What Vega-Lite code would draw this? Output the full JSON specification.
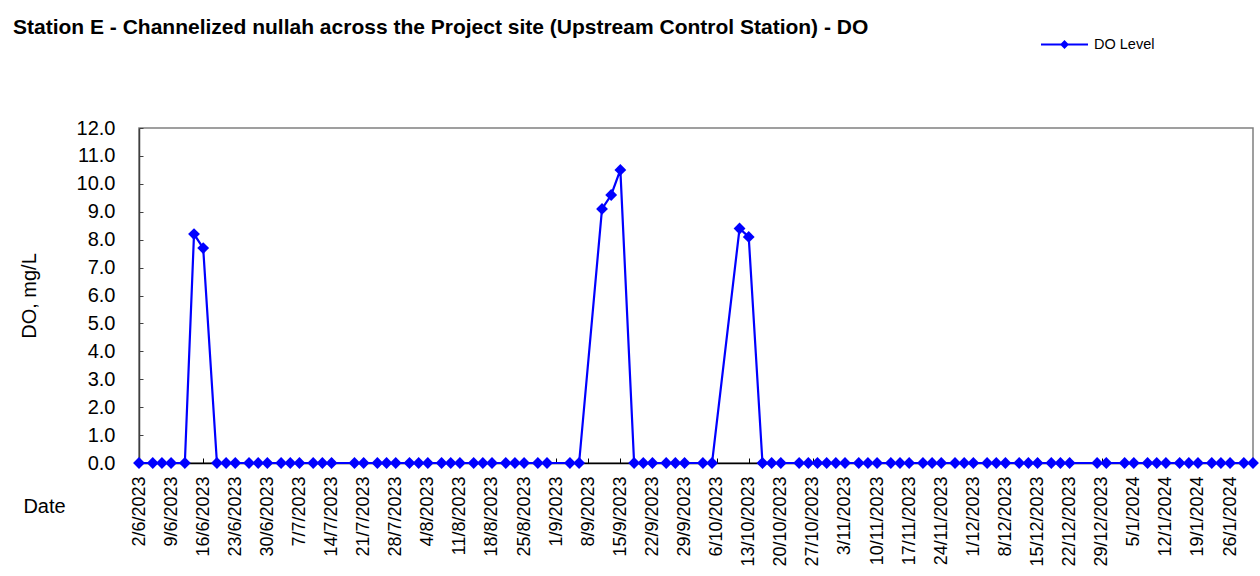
{
  "$schema": "https://vega.github.io/schema/vega-lite/v6.json",
  "width": 1114,
  "height": 335,
  "autosize": {"type": "none"},
  "padding": {"left": 139, "top": 128, "right": 7, "bottom": 113},
  "background": "white",
  "title": {
    "text": "Station E - Channelized nullah across the Project site (Upstream Control Station) - DO",
    "anchor": "start",
    "frame": "group",
    "dx": -126,
    "dy": 18,
    "offset": 0,
    "font": "Liberation Sans",
    "fontSize": 21,
    "fontWeight": "bold",
    "color": "#000000"
  },
  "config": {
    "font": "Liberation Sans",
    "view": {"stroke": "#808080", "strokeWidth": 1.5}
  },
  "data": {
    "values": [
      {"date": "2023-06-02T00:00", "value": 0, "series": "DO Level"},
      {"date": "2023-06-05T00:00", "value": 0, "series": "DO Level"},
      {"date": "2023-06-07T00:00", "value": 0, "series": "DO Level"},
      {"date": "2023-06-09T00:00", "value": 0, "series": "DO Level"},
      {"date": "2023-06-12T00:00", "value": 0, "series": "DO Level"},
      {"date": "2023-06-14T00:00", "value": 8.2, "series": "DO Level"},
      {"date": "2023-06-16T00:00", "value": 7.7, "series": "DO Level"},
      {"date": "2023-06-19T00:00", "value": 0, "series": "DO Level"},
      {"date": "2023-06-21T00:00", "value": 0, "series": "DO Level"},
      {"date": "2023-06-23T00:00", "value": 0, "series": "DO Level"},
      {"date": "2023-06-26T00:00", "value": 0, "series": "DO Level"},
      {"date": "2023-06-28T00:00", "value": 0, "series": "DO Level"},
      {"date": "2023-06-30T00:00", "value": 0, "series": "DO Level"},
      {"date": "2023-07-03T00:00", "value": 0, "series": "DO Level"},
      {"date": "2023-07-05T00:00", "value": 0, "series": "DO Level"},
      {"date": "2023-07-07T00:00", "value": 0, "series": "DO Level"},
      {"date": "2023-07-10T00:00", "value": 0, "series": "DO Level"},
      {"date": "2023-07-12T00:00", "value": 0, "series": "DO Level"},
      {"date": "2023-07-14T00:00", "value": 0, "series": "DO Level"},
      {"date": "2023-07-19T00:00", "value": 0, "series": "DO Level"},
      {"date": "2023-07-21T00:00", "value": 0, "series": "DO Level"},
      {"date": "2023-07-24T00:00", "value": 0, "series": "DO Level"},
      {"date": "2023-07-26T00:00", "value": 0, "series": "DO Level"},
      {"date": "2023-07-28T00:00", "value": 0, "series": "DO Level"},
      {"date": "2023-07-31T00:00", "value": 0, "series": "DO Level"},
      {"date": "2023-08-02T00:00", "value": 0, "series": "DO Level"},
      {"date": "2023-08-04T00:00", "value": 0, "series": "DO Level"},
      {"date": "2023-08-07T00:00", "value": 0, "series": "DO Level"},
      {"date": "2023-08-09T00:00", "value": 0, "series": "DO Level"},
      {"date": "2023-08-11T00:00", "value": 0, "series": "DO Level"},
      {"date": "2023-08-14T00:00", "value": 0, "series": "DO Level"},
      {"date": "2023-08-16T00:00", "value": 0, "series": "DO Level"},
      {"date": "2023-08-18T00:00", "value": 0, "series": "DO Level"},
      {"date": "2023-08-21T00:00", "value": 0, "series": "DO Level"},
      {"date": "2023-08-23T00:00", "value": 0, "series": "DO Level"},
      {"date": "2023-08-25T00:00", "value": 0, "series": "DO Level"},
      {"date": "2023-08-28T00:00", "value": 0, "series": "DO Level"},
      {"date": "2023-08-30T00:00", "value": 0, "series": "DO Level"},
      {"date": "2023-09-04T00:00", "value": 0, "series": "DO Level"},
      {"date": "2023-09-06T00:00", "value": 0, "series": "DO Level"},
      {"date": "2023-09-11T00:00", "value": 9.1, "series": "DO Level"},
      {"date": "2023-09-13T00:00", "value": 9.6, "series": "DO Level"},
      {"date": "2023-09-15T00:00", "value": 10.5, "series": "DO Level"},
      {"date": "2023-09-18T00:00", "value": 0, "series": "DO Level"},
      {"date": "2023-09-20T00:00", "value": 0, "series": "DO Level"},
      {"date": "2023-09-22T00:00", "value": 0, "series": "DO Level"},
      {"date": "2023-09-25T00:00", "value": 0, "series": "DO Level"},
      {"date": "2023-09-27T00:00", "value": 0, "series": "DO Level"},
      {"date": "2023-09-29T00:00", "value": 0, "series": "DO Level"},
      {"date": "2023-10-03T00:00", "value": 0, "series": "DO Level"},
      {"date": "2023-10-05T00:00", "value": 0, "series": "DO Level"},
      {"date": "2023-10-11T00:00", "value": 8.4, "series": "DO Level"},
      {"date": "2023-10-13T00:00", "value": 8.1, "series": "DO Level"},
      {"date": "2023-10-16T00:00", "value": 0, "series": "DO Level"},
      {"date": "2023-10-18T00:00", "value": 0, "series": "DO Level"},
      {"date": "2023-10-20T00:00", "value": 0, "series": "DO Level"},
      {"date": "2023-10-24T00:00", "value": 0, "series": "DO Level"},
      {"date": "2023-10-26T00:00", "value": 0, "series": "DO Level"},
      {"date": "2023-10-28T00:00", "value": 0, "series": "DO Level"},
      {"date": "2023-10-30T00:00", "value": 0, "series": "DO Level"},
      {"date": "2023-11-01T00:00", "value": 0, "series": "DO Level"},
      {"date": "2023-11-03T00:00", "value": 0, "series": "DO Level"},
      {"date": "2023-11-06T00:00", "value": 0, "series": "DO Level"},
      {"date": "2023-11-08T00:00", "value": 0, "series": "DO Level"},
      {"date": "2023-11-10T00:00", "value": 0, "series": "DO Level"},
      {"date": "2023-11-13T00:00", "value": 0, "series": "DO Level"},
      {"date": "2023-11-15T00:00", "value": 0, "series": "DO Level"},
      {"date": "2023-11-17T00:00", "value": 0, "series": "DO Level"},
      {"date": "2023-11-20T00:00", "value": 0, "series": "DO Level"},
      {"date": "2023-11-22T00:00", "value": 0, "series": "DO Level"},
      {"date": "2023-11-24T00:00", "value": 0, "series": "DO Level"},
      {"date": "2023-11-27T00:00", "value": 0, "series": "DO Level"},
      {"date": "2023-11-29T00:00", "value": 0, "series": "DO Level"},
      {"date": "2023-12-01T00:00", "value": 0, "series": "DO Level"},
      {"date": "2023-12-04T00:00", "value": 0, "series": "DO Level"},
      {"date": "2023-12-06T00:00", "value": 0, "series": "DO Level"},
      {"date": "2023-12-08T00:00", "value": 0, "series": "DO Level"},
      {"date": "2023-12-11T00:00", "value": 0, "series": "DO Level"},
      {"date": "2023-12-13T00:00", "value": 0, "series": "DO Level"},
      {"date": "2023-12-15T00:00", "value": 0, "series": "DO Level"},
      {"date": "2023-12-18T00:00", "value": 0, "series": "DO Level"},
      {"date": "2023-12-20T00:00", "value": 0, "series": "DO Level"},
      {"date": "2023-12-22T00:00", "value": 0, "series": "DO Level"},
      {"date": "2023-12-28T00:00", "value": 0, "series": "DO Level"},
      {"date": "2023-12-30T00:00", "value": 0, "series": "DO Level"},
      {"date": "2024-01-03T00:00", "value": 0, "series": "DO Level"},
      {"date": "2024-01-05T00:00", "value": 0, "series": "DO Level"},
      {"date": "2024-01-08T00:00", "value": 0, "series": "DO Level"},
      {"date": "2024-01-10T00:00", "value": 0, "series": "DO Level"},
      {"date": "2024-01-12T00:00", "value": 0, "series": "DO Level"},
      {"date": "2024-01-15T00:00", "value": 0, "series": "DO Level"},
      {"date": "2024-01-17T00:00", "value": 0, "series": "DO Level"},
      {"date": "2024-01-19T00:00", "value": 0, "series": "DO Level"},
      {"date": "2024-01-22T00:00", "value": 0, "series": "DO Level"},
      {"date": "2024-01-24T00:00", "value": 0, "series": "DO Level"},
      {"date": "2024-01-26T00:00", "value": 0, "series": "DO Level"},
      {"date": "2024-01-29T00:00", "value": 0, "series": "DO Level"},
      {"date": "2024-01-31T00:00", "value": 0, "series": "DO Level"}
    ]
  },
  "encoding": {
    "x": {
      "field": "date",
      "type": "temporal",
      "scale": {"domain": [{"year": 2023, "month": 6, "date": 2}, {"year": 2024, "month": 1, "date": 31}], "nice": false},
      "axis": {
        "title": "Date",
        "titleX": -95,
        "titleY": 43,
        "titleAlign": "center",
        "titleBaseline": "middle",
        "titleFont": "Liberation Sans",
        "titleFontSize": 20,
        "titleFontWeight": "normal",
        "titleColor": "#000000",
        "values": [
          {"year": 2023, "month": 6, "date": 2}, {"year": 2023, "month": 6, "date": 9}, {"year": 2023, "month": 6, "date": 16}, {"year": 2023, "month": 6, "date": 23}, {"year": 2023, "month": 6, "date": 30},
          {"year": 2023, "month": 7, "date": 7}, {"year": 2023, "month": 7, "date": 14}, {"year": 2023, "month": 7, "date": 21}, {"year": 2023, "month": 7, "date": 28},
          {"year": 2023, "month": 8, "date": 4}, {"year": 2023, "month": 8, "date": 11}, {"year": 2023, "month": 8, "date": 18}, {"year": 2023, "month": 8, "date": 25},
          {"year": 2023, "month": 9, "date": 1}, {"year": 2023, "month": 9, "date": 8}, {"year": 2023, "month": 9, "date": 15}, {"year": 2023, "month": 9, "date": 22}, {"year": 2023, "month": 9, "date": 29},
          {"year": 2023, "month": 10, "date": 6}, {"year": 2023, "month": 10, "date": 13}, {"year": 2023, "month": 10, "date": 20}, {"year": 2023, "month": 10, "date": 27},
          {"year": 2023, "month": 11, "date": 3}, {"year": 2023, "month": 11, "date": 10}, {"year": 2023, "month": 11, "date": 17}, {"year": 2023, "month": 11, "date": 24},
          {"year": 2023, "month": 12, "date": 1}, {"year": 2023, "month": 12, "date": 8}, {"year": 2023, "month": 12, "date": 15}, {"year": 2023, "month": 12, "date": 22}, {"year": 2023, "month": 12, "date": 29},
          {"year": 2024, "month": 1, "date": 5}, {"year": 2024, "month": 1, "date": 12}, {"year": 2024, "month": 1, "date": 19}, {"year": 2024, "month": 1, "date": 26}
        ],
        "format": "%-d/%-m/%Y",
        "labelAngle": -90,
        "labelFont": "Liberation Sans",
        "labelFontSize": 18,
        "labelColor": "#000000",
        "labelPadding": 18,
        "labelOverlap": false,
        "labelFlush": false,
        "tickSize": -5,
        "tickColor": "#000000",
        "domainColor": "#000000",
        "domainWidth": 1.5,
        "grid": false
      }
    },
    "y": {
      "field": "value",
      "type": "quantitative",
      "scale": {"domain": [0, 12], "nice": false},
      "axis": {
        "title": "DO, mg/L",
        "titleFont": "Liberation Sans",
        "titleFontSize": 20,
        "titleFontWeight": "normal",
        "titleColor": "#000000",
        "titlePadding": 37,
        "values": [0, 1, 2, 3, 4, 5, 6, 7, 8, 9, 10, 11, 12],
        "format": ".1f",
        "labelFont": "Liberation Sans",
        "labelFontSize": 20,
        "labelColor": "#000000",
        "labelPadding": 28,
        "labelFlush": false,
        "tickSize": -4,
        "tickColor": "#404040",
        "domainColor": "#404040",
        "domainWidth": 1.5,
        "grid": false
      }
    },
    "color": {
      "field": "series",
      "type": "nominal",
      "scale": {"range": ["#0000ff"]},
      "legend": {
        "title": null,
        "orient": "none",
        "legendX": 901,
        "legendY": -108,
        "symbolType": "M-1,0L1,0M0,-0.13L0.13,0L0,0.13L-0.13,0Z",
        "symbolSize": 2209,
        "symbolStrokeWidth": 2,
        "symbolFillColor": "#0000ff",
        "symbolStrokeColor": "#0000ff",
        "labelFont": "Liberation Sans",
        "labelFontSize": 14.5,
        "labelColor": "#000000",
        "labelOffset": 5
      }
    }
  },
  "layer": [
    {"mark": {"type": "line", "strokeWidth": 2.2, "clip": false}},
    {"mark": {"type": "point", "shape": "diamond", "filled": true, "size": 140, "opacity": 1, "clip": false}}
  ]
}
